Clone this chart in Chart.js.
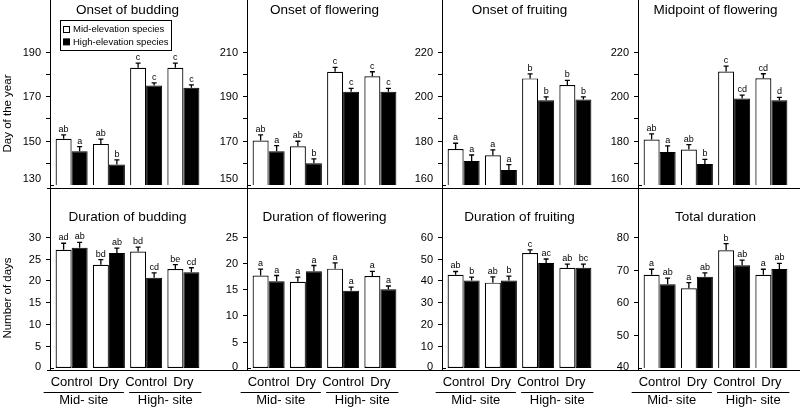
<!DOCTYPE html>
<html>
<head>
<meta charset="utf-8">
<script src="https://cdn.jsdelivr.net/npm/chart.js@4.4.0/dist/chart.umd.min.js"></script>
<style>
  html, body { margin: 0; padding: 0; background: #fff; }
  body { width: 800px; height: 410px; position: relative; overflow: hidden; }
  canvas { position: absolute; }
</style>
</head>
<body>
<script>
const panelTitles = [
  "Onset of budding", "Onset of flowering", "Onset of fruiting", "Midpoint of flowering",
  "Duration of budding", "Duration of flowering", "Duration of fruiting", "Total duration"
];
const treatments = ["Control", "Dry", "Control", "Dry"];
const sites = ["Mid- site", "High- site"];
const speciesGroups = ["Mid-elevation species", "High-elevation species"];
const yTitles = ["Day of the year", "Number of days"];

// white bars - mid-elevation species
const midMeans = [
  [150.8, 148.5, 182.8, 182.8],
  [170, 167.4, 201, 199],
  [176.2, 173.4, 208, 205],
  [180.5, 176, 211.1, 208.1],
  [27, 23.6, 26.6, 22.6],
  [17.6, 16.4, 18.9, 17.5],
  [42.6, 39, 52.5, 45.8],
  [68.4, 64.3, 75.9, 68.4]
];
const midErr = [
  [1.8, 2.2, 2.1, 2.1],
  [2.6, 2.3, 2, 2],
  [2.6, 2.4, 2, 2.1],
  [2.5, 2.2, 2.4, 2],
  [1.5, 1.15, 1, 1],
  [1.2, 0.9, 1.1, 0.9],
  [1.5, 2.6, 1.5, 1.7],
  [1.7, 1.7, 2, 1.7]
];
const midLetters = [
  ["ab", "ab", "c", "c"],
  ["ab", "ab", "c", "c"],
  ["a", "a", "b", "b"],
  ["ab", "ab", "c", "cd"],
  ["ad", "bd", "bd", "be"],
  ["a", "a", "a", "a"],
  ["ab", "ab", "c", "ab"],
  ["a", "a", "b", "a"]
];

// black bars - high-elevation species
const highMeans = [
  [145.2, 139.2, 174.8, 173.8],
  [165.2, 159.8, 192, 192],
  [170.8, 166.8, 198.2, 198.5],
  [174.9, 169.5, 199, 198.2],
  [27.5, 26.25, 20.6, 21.9],
  [16.5, 18.4, 14.7, 15],
  [40, 40, 48, 45.8],
  [65.5, 67.8, 71.3, 70.2]
];
const highErr = [
  [2.1, 2.1, 1.2, 1.3],
  [2.5, 2, 1.5, 1.5],
  [2.7, 2.4, 1.5, 1.2],
  [2.7, 2, 1.5, 1.3],
  [1.2, 1.15, 1.15, 1],
  [1.1, 1.1, 0.7, 0.6],
  [1.5, 2, 1.8, 1.7],
  [1.9, 1.2, 1.6, 1.7]
];
const highLetters = [
  ["a", "b", "c", "c"],
  ["a", "b", "c", "c"],
  ["a", "a", "b", "b"],
  ["a", "b", "cd", "d"],
  ["ab", "ab", "cd", "cd"],
  ["a", "a", "a", "a"],
  ["b", "b", "ac", "bc"],
  ["ab", "ab", "ab", "ab"]
];

// y axes
const yMin = [130, 150, 160, 160, 0, 0, 0, 40];
const yMax = [203.4, 223.4, 233.4, 233.4, 31.7, 26.4, 63.4, 82.3];
const yTopTick = [190, 210, 220, 220, 30, 25, 60, 80];
const yMinorStep = [10, 10, 10, 10, 5, 5, 10, 10];
const yLabelStep = [20, 20, 20, 20, 5, 5, 10, 10];

const axisX = [50, 247, 442, 638];
const FONT = '"Liberation Sans", Arial, Helvetica, sans-serif';
Chart.defaults.font.family = FONT;
Chart.defaults.color = "#000";

const panelDecor = {
  id: "panelDecor",
  afterDraw(chart, args, opts) {
    const p = opts.index;
    const row = p < 4 ? 0 : 1;
    const ctx = chart.ctx;
    const area = chart.chartArea;
    const y = chart.scales.y;
    const ax = Math.round(area.left) - 3;
    ctx.save();
    ctx.strokeStyle = "#000";
    ctx.fillStyle = "#000";

    // error bars and letters
    chart.data.datasets.forEach((ds, d) => {
      const meta = chart.getDatasetMeta(d);
      meta.data.forEach((bar, i) => {
        const top = y.getPixelForValue(ds.data[i] + ds.errors[i]);
        ctx.lineWidth = 1.3;
        ctx.beginPath();
        ctx.moveTo(bar.x, bar.y);
        ctx.lineTo(bar.x, top);
        ctx.moveTo(bar.x - 2.5, top);
        ctx.lineTo(bar.x + 2.5, top);
        ctx.stroke();
        ctx.font = "9px " + FONT;
        ctx.textAlign = "center";
        ctx.textBaseline = "alphabetic";
        ctx.fillText(ds.letters[i], bar.x, top - 3);
      });
    });

    // axis lines
    ctx.lineWidth = 1;
    const lineY = Math.round(area.bottom) + (row === 0 ? 3 : 2) + 0.5;
    ctx.beginPath();
    ctx.moveTo(ax + 0.5, 0);
    ctx.lineTo(ax + 0.5, row === 0 ? chart.height : lineY);
    ctx.moveTo(p % 4 === 0 ? ax - 3 : 0, lineY);
    ctx.lineTo(chart.width, lineY);
    ctx.stroke();

    // y ticks and labels
    ctx.font = "11px " + FONT;
    ctx.textAlign = "right";
    ctx.textBaseline = "middle";
    for (let v = yMin[p]; v <= yTopTick[p]; v += yMinorStep[p]) {
      const py = Math.round(y.getPixelForValue(v)) + 0.5;
      ctx.beginPath();
      if (v === yMin[p]) {
        ctx.moveTo(ax, py);
        ctx.lineTo(ax + 4, py);
      } else {
        ctx.moveTo(ax - 4, py);
        ctx.lineTo(ax, py);
      }
      ctx.stroke();
      if ((v - yMin[p]) % yLabelStep[p] === 0) {
        const shift = v === yMin[p] ? (row === 0 ? -7 : -2) : 0;
        ctx.fillText(String(v), ax - 9, py + shift);
      }
    }

    // site groups under the x axis
    if (row === 1) {
      const xs = chart.scales.x;
      const c = (i) => xs.getPixelForValue(i);
      const spans = [[c(0) - 28, c(1) + 15], [c(2) - 17, c(3) + 18]];
      ctx.font = "13px " + FONT;
      ctx.textAlign = "center";
      ctx.textBaseline = "middle";
      spans.forEach((s, k) => {
        const ly = Math.round(area.bottom) + 24.5;
        ctx.beginPath();
        ctx.moveTo(s[0], ly);
        ctx.lineTo(s[1], ly);
        ctx.stroke();
        ctx.fillText(sites[k], (s[0] + s[1]) / 2, area.bottom + 32);
      });
    }

    // y axis titles
    if (p % 4 === 0) {
      ctx.save();
      ctx.font = "11.5px " + FONT;
      ctx.textAlign = "center";
      ctx.textBaseline = "middle";
      ctx.translate(8, row === 0 ? 113.5 : 110);
      ctx.rotate(-Math.PI / 2);
      ctx.fillText(yTitles[row], 0, 0);
      ctx.restore();
    }

    // legend
    if (p === 0) {
      ctx.lineWidth = 1;
      ctx.strokeRect(60.5, 20.5, 111, 30);
      ctx.font = "9.5px " + FONT;
      ctx.textAlign = "left";
      ctx.textBaseline = "middle";
      chart.data.datasets.forEach((ds, d) => {
        const cy = 29.5 + d * 12.4;
        ctx.fillStyle = ds.backgroundColor;
        ctx.fillRect(63.5, cy - 3, 6, 6);
        ctx.strokeRect(63.5, cy - 3, 6, 6);
        ctx.fillStyle = "#000";
        ctx.fillText(ds.label, 73, cy);
      });
    }
    ctx.restore();
  }
};

for (let p = 0; p < 8; p++) {
  const row = Math.floor(p / 4);
  const col = p % 4;
  const w = 212;
  const h = row === 0 ? 190 : 222;
  const cv = document.createElement("canvas");
  cv.width = w;
  cv.height = h;
  cv.style.left = (axisX[col] - 50) + "px";
  cv.style.top = (row === 0 ? 0 : 188) + "px";
  cv.style.width = w + "px";
  cv.style.height = h + "px";
  document.body.appendChild(cv);

  const xScale = {
    display: row === 1,
    grid: { display: false, drawTicks: false },
    border: { display: false },
    ticks: {
      font: { size: 13, lineHeight: 1.2 },
      color: "#000",
      padding: 7,
      maxRotation: 0,
      minRotation: 0,
      autoSkip: false
    }
  };
  if (row === 1) {
    xScale.afterFit = (s) => { s.height = 42; };
  }

  new Chart(cv, {
    type: "bar",
    data: {
      labels: treatments,
      datasets: [
        {
          label: speciesGroups[0],
          data: midMeans[p],
          errors: midErr[p],
          letters: midLetters[p],
          backgroundColor: "#fff",
          borderColor: "#000",
          borderWidth: 1.2,
          borderSkipped: false,
          categoryPercentage: 0.86,
          barPercentage: 1
        },
        {
          label: speciesGroups[1],
          data: highMeans[p],
          errors: highErr[p],
          letters: highLetters[p],
          backgroundColor: "#000",
          borderColor: "#000",
          borderWidth: 1,
          borderSkipped: false,
          categoryPercentage: 0.86,
          barPercentage: 1
        }
      ]
    },
    options: {
      responsive: false,
      animation: false,
      devicePixelRatio: 1,
      layout: { padding: { left: 53, right: w - 53 - 149, top: 0, bottom: row === 0 ? 5 : 0 } },
      plugins: {
        legend: { display: false },
        tooltip: { enabled: false },
        title: {
          display: true,
          text: panelTitles[p],
          fullSize: false,
          color: "#000",
          font: { size: 13.5, weight: "normal", lineHeight: 1 },
          padding: { top: row === 0 ? 3.5 : 22.75, bottom: 5 }
        },
        panelDecor: { index: p }
      },
      scales: {
        x: xScale,
        y: { display: false, min: yMin[p], max: yMax[p] }
      }
    },
    plugins: [panelDecor]
  });
}
</script>
</body>
</html>
